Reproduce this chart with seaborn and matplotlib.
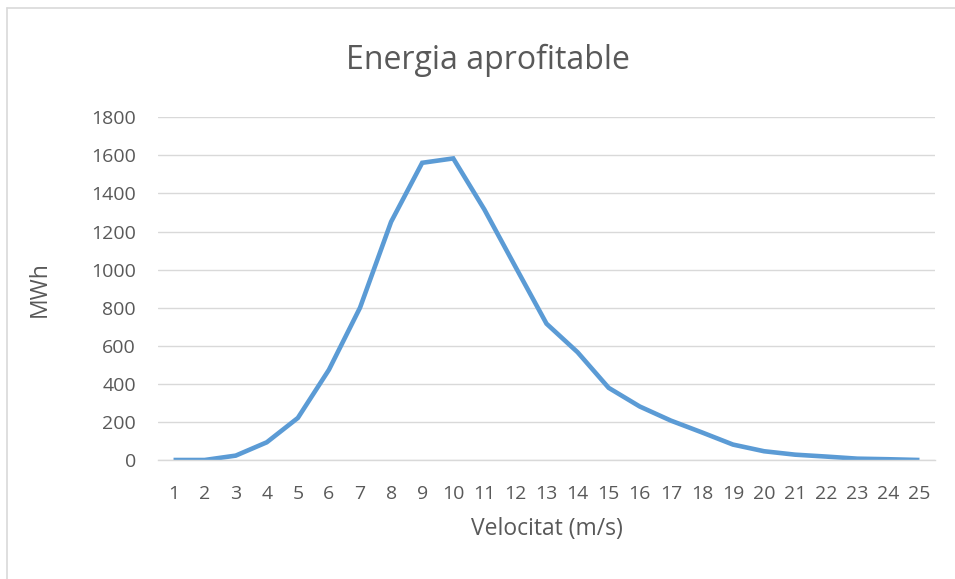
import matplotlib
matplotlib.use("Agg")
import matplotlib.pyplot as plt
import seaborn as sns
import pandas as pd
from matplotlib.lines import Line2D

velocitat = list(range(1, 26))
energia = [0, 0, 23, 93, 221, 474, 800, 1251, 1561, 1584, 1316, 1015, 716,
           566, 379, 281, 207, 145, 81, 46, 28, 18, 7, 4, 0]
y_ticks = [0, 200, 400, 600, 800, 1000, 1200, 1400, 1600, 1800]

title = "Energia aprofitable"
xlabel = "Velocitat (m/s)"
ylabel = "MWh"

sns.set_theme(style="white")
plt.rcParams['font.family'] = ['Open Sans', 'DejaVu Sans']

text_color = "#595959"
df = pd.DataFrame({"v": velocitat, "e": energia})

fig = plt.figure(figsize=(9.55, 5.79), dpi=100)
ax = fig.add_axes([158/955, 1 - 460/579, (935-158)/955, (460-117.3)/579])

sns.lineplot(data=df, x="v", y="e", ax=ax, color="#5B9BD5", linewidth=3.3,
             solid_joinstyle="miter", solid_capstyle="butt")

ax.set_xlim(0.5, 25.5)
ax.set_ylim(0, 1800)
ax.set_yticks(y_ticks)
ax.set_yticklabels([str(t) for t in y_ticks])
ax.set_xticks(velocitat)
ax.set_xticklabels([str(v) for v in velocitat])
ax.grid(axis="y", color="#D9D9D9", linewidth=1.0)
ax.set_axisbelow(True)
for s in ["top", "right", "left"]:
    ax.spines[s].set_visible(False)
ax.spines["bottom"].set_color("#D9D9D9")
ax.spines["bottom"].set_linewidth(1.0)
ax.tick_params(axis="both", length=0, labelsize=14, colors=text_color)
ax.tick_params(axis="x", pad=18)
ax.tick_params(axis="y", pad=16)
ax.set_xlabel(xlabel, fontsize=16.5, color=text_color, labelpad=10)
ax.set_ylabel(ylabel, fontsize=16.5, color=text_color, labelpad=28)
fig.text(488 / 955, 1 - 60/579, title, fontsize=23,
         color=text_color, ha="center", va="center")

# chart border
fig.add_artist(Line2D([7/955, 1], [1 - 8/579, 1 - 8/579], transform=fig.transFigure,
                      color="#D9D9D9", linewidth=1.2))
fig.add_artist(Line2D([7/955, 7/955], [0, 1 - 8/579], transform=fig.transFigure,
                      color="#D9D9D9", linewidth=1.2))

fig.savefig("out.png", dpi=100)
